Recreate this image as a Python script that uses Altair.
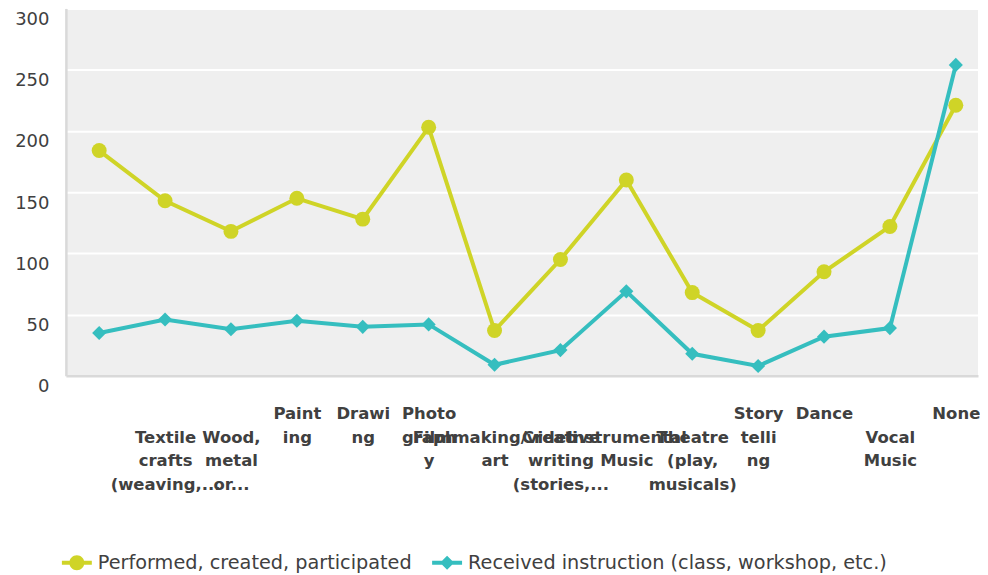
import json
import altair as alt
import pandas as pd

categories = [" ", "Textile crafts (weaving,...", "Wood, metal or...", "Painting", "Drawing",
              "Photography", "Filmmaking/video art", "Creative writing (stories,...",
              "Instrumental Music", "Theatre (play, musicals)", "Storytelling", "Dance",
              "Vocal Music", "None"]
label_lines = [
    [""],
    ["", "Textile", "crafts", "(weaving,..."],
    ["", "Wood,", "metal", "or..."],
    ["Paint", "ing"],
    ["Drawi", "ng"],
    ["Photo", "graph", "y"],
    ["", "Filmmaking/video", "art"],
    ["", "Creative", "writing", "(stories,..."],
    ["", "Instrumental", "Music"],
    ["", "Theatre", "(play,", "musicals)"],
    ["Story", "telli", "ng"],
    ["Dance"],
    ["", "Vocal", "Music"],
    ["None"],
]
series_names = ["Performed, created, participated", "Received instruction (class, workshop, etc.)"]
performed = [184, 143, 118, 145, 128, 203, 37, 95, 160, 68, 37, 85, 122, 221]
received = [35, 46, 38, 45, 40, 42, 9, 21, 69, 18, 8, 32, 39, 254]
colors = ["#cfd427", "#35bebf"]
y_ticks = [0, 50, 100, 150, 200, 250, 300]

rows = []
for i, c in enumerate(categories):
    rows.append({"category": c, "series": series_names[0], "value": performed[i]})
    rows.append({"category": c, "series": series_names[1], "value": received[i]})
df = pd.DataFrame(rows)

label_expr = ""
for c, lines in zip(categories, label_lines):
    label_expr += f"datum.value === {json.dumps(c)} ? {json.dumps(lines)} : "
label_expr += "datum.label"

legend_paths = [
    "M-1,-0.13H1V0.13H-1Z M0.5,0A0.5,0.5 0 1 1 -0.5,0A0.5,0.5 0 1 1 0.5,0Z",
    "M-1,-0.13H1V0.13H-1Z M0,-0.47L0.47,0L0,0.47L-0.47,0Z",
]

legend = alt.Legend(
    title=None, orient="none", legendX=-4, legendY=540, direction="horizontal",
    symbolSize=900, symbolStrokeWidth=0, symbolOpacity=1,
    labelFont="DejaVu Sans", labelFontSize=19.3, labelColor="#404040",
    labelOffset=6, columnPadding=20, padding=0, labelLimit=0,
)

base = alt.Chart(df).encode(
    x=alt.X("category:N", sort=categories,
            scale=alt.Scale(type="point", padding=0.421, align=0.6),
            axis=alt.Axis(title=None, labelAngle=0, labelExpr=label_expr,
                          labelFont="DejaVu Sans", labelFontWeight="bold",
                          labelFontSize=16.5, labelColor="#404040", labelLineHeight=23.5,
                          labelPadding=30, ticks=False, domainColor="#d9d9d9",
                          domainWidth=2.5, grid=False, labelOverlap=False,
                          labelLimit=0, labelBound=False, labelFlush=False)),
    y=alt.Y("value:Q", scale=alt.Scale(domain=[0, 300], nice=False),
            axis=alt.Axis(title=None, values=y_ticks, labelFont="DejaVu Sans",
                          labelFontSize=18, labelColor="#404040", labelPadding=17,
                          labelBaseline="top", labelOffset=2, ticks=False,
                          gridColor="#ffffff", gridWidth=2,
                          domainColor="#d9d9d9", domainWidth=2.5,
                          minExtent=58, maxExtent=58)),
)

layers = []
for name, col, shp, sz in zip(series_names, colors, ["circle", "diamond"], [225, 200]):
    sub = base.transform_filter(alt.datum.series == name)
    layers.append(sub.mark_line(strokeWidth=4, color=col))
    layers.append(sub.mark_point(shape=shp, filled=True, opacity=1, size=sz, color=col))

legend_layer = base.transform_filter("false").mark_point(filled=True, opacity=1).encode(
    color=alt.Color("series:N", scale=alt.Scale(domain=series_names, range=colors),
                    legend=legend),
    shape=alt.Shape("series:N", scale=alt.Scale(domain=series_names, range=legend_paths),
                    legend=legend),
)
layers.append(legend_layer)

chart = alt.layer(*layers).properties(
    width=914, height=368, padding=0
).configure_view(fill="#efefef", stroke=None)

chart.save("out.html", embed_options={"renderer": "svg", "actions": False})
